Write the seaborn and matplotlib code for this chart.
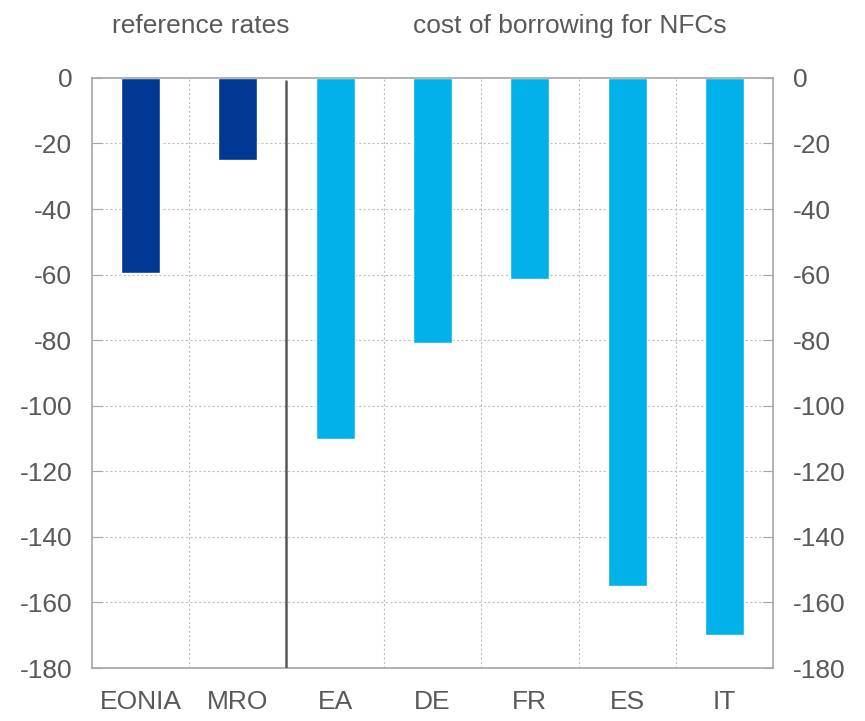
import matplotlib.pyplot as plt
import pandas as pd
import seaborn as sns

# Data
categories = ['EONIA', 'MRO', 'EA', 'DE', 'FR', 'ES', 'IT']
values = [-59.5, -25, -110, -81, -61.5, -155, -170]
groups = ['ref', 'ref', 'nfc', 'nfc', 'nfc', 'nfc', 'nfc']
palette = {'ref': '#003894', 'nfc': '#00B1EA'}

df = pd.DataFrame({'cat': categories, 'value': values, 'group': groups})

sns.set_style('white')
plt.rcParams['font.family'] = ['Liberation Sans', 'DejaVu Sans']
plt.rcParams['axes.unicode_minus'] = False
txt = '#595959'
fs = 19

fig = plt.figure(figsize=(8.65, 7.21), dpi=100)
ax = fig.add_axes([0.106, 0.0735, 0.788, 0.8185])

sns.barplot(data=df, x='cat', y='value', hue='group', palette=palette,
            dodge=False, width=0.4, legend=False, ax=ax, saturation=1)

ax.set_ylim(-180, 0)
ax.set_xlim(-0.5, len(categories) - 0.5)
ax.set_yticks(range(-180, 1, 20))
ax.set_xlabel('')
ax.set_ylabel('')

# grid
for y in range(-160, 0, 20):
    ax.axhline(y, color='#bfbfbf', ls=(0, (2, 2)), lw=0.8, zorder=0)
for i in range(len(categories) - 1):
    x = i + 0.5
    if i == 1:
        ax.plot([x, x], [-180, -1], color='#595959', lw=1.8, zorder=3)
    else:
        ax.axvline(x, color='#bfbfbf', ls=(0, (2, 2)), lw=0.8, zorder=0)

for s in ax.spines.values():
    s.set_color('#a6a6a6')
    s.set_linewidth(1.2)

ax.tick_params(axis='y', direction='in', length=7, color='#a6a6a6',
               labelsize=fs, labelcolor=txt, pad=14,
               left=True, right=True, labelleft=True, labelright=True)
ax.tick_params(axis='x', length=0, labelsize=fs, labelcolor=txt, pad=16)

fig.text(201 / 865, 1 - 26 / 721, 'reference rates', ha='center', va='center',
         fontsize=fs, color=txt)
fig.text(570 / 865, 1 - 26 / 721, 'cost of borrowing for NFCs', ha='center',
         va='center', fontsize=fs, color=txt)

fig.savefig('out.png', dpi=100)
